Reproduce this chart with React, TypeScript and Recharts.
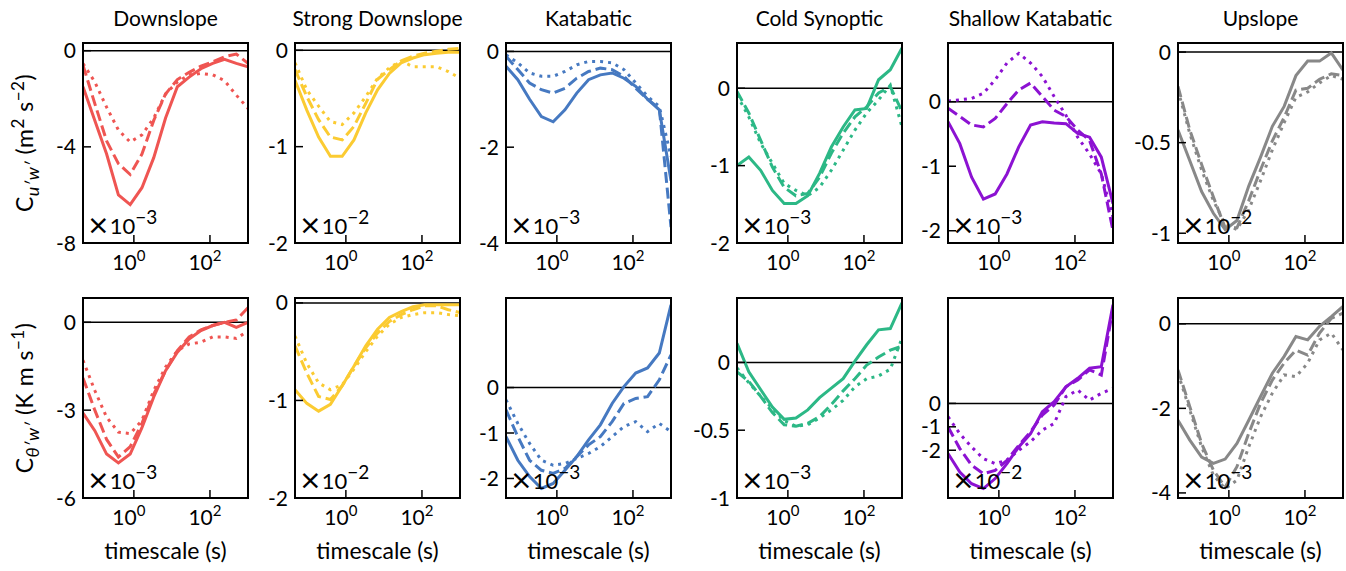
import { LineChart, Line, XAxis, YAxis, ReferenceLine } from "recharts";

// timescale (s) of each decomposition point
const timescale = [0.046, 0.094, 0.192, 0.392, 0.8, 1.63, 3.33, 6.81, 13.9, 28.4, 57.9, 118, 242, 493, 1000];

const titles = ["Downslope", "Strong Downslope", "Katabatic", "Cold Synoptic", "Shallow Katabatic", "Upslope"];
const colors = ["#EF5552", "#FBCB32", "#4679C1", "#2CB886", "#8C12D2", "#888888"];

// C_u'w' (top row)
const downUwSolid = [-1.5, -2.9, -4.3, -6.0, -6.4, -5.7, -4.45, -2.8, -1.5, -1.1, -0.75, -0.53, -0.36, -0.53, -0.67];
const downUwDashed = [-0.6, -2.2, -3.75, -4.7, -5.15, -4.3, -2.9, -1.8, -1.2, -0.9, -0.64, -0.46, -0.25, -0.14, -0.53];
const downUwDotted = [-0.53, -1.3, -2.35, -3.3, -3.8, -3.5, -2.8, -1.8, -1.3, -1.0, -0.95, -1.0, -1.25, -1.85, -2.4];

const strongUwSolid = [-0.31, -0.62, -0.9, -1.1, -1.1, -0.93, -0.65, -0.41, -0.24, -0.13, -0.08, -0.045, -0.03, -0.02, -0.02];
const strongUwDashed = [-0.2, -0.48, -0.72, -0.9, -0.93, -0.79, -0.55, -0.3, -0.2, -0.11, -0.06, -0.03, -0.01, 0.01, 0.02];
const strongUwDotted = [-0.13, -0.41, -0.58, -0.74, -0.77, -0.65, -0.48, -0.29, -0.18, -0.11, -0.17, -0.17, -0.17, -0.22, -0.29];

const katUwSolid = [-0.31, -0.59, -1.0, -1.36, -1.47, -1.22, -0.87, -0.59, -0.49, -0.45, -0.56, -0.73, -1.0, -1.22, -2.7];
const katUwDashed = [-0.1, -0.38, -0.66, -0.8, -0.87, -0.77, -0.56, -0.42, -0.35, -0.38, -0.52, -0.77, -1.0, -1.19, -3.67];
const katUwDotted = [-0.07, -0.24, -0.45, -0.52, -0.52, -0.42, -0.28, -0.21, -0.21, -0.24, -0.38, -0.66, -0.94, -1.15, -2.2];

const coldUwSolid = [-1.0, -0.89, -1.06, -1.32, -1.49, -1.49, -1.39, -1.1, -0.76, -0.5, -0.28, -0.26, 0.11, 0.24, 0.52];
const coldUwDashed = [-0.04, -0.32, -0.67, -1.02, -1.28, -1.39, -1.36, -1.15, -0.84, -0.58, -0.37, -0.24, -0.06, 0.02, -0.3];
const coldUwDotted = [-0.09, -0.37, -0.71, -0.97, -1.23, -1.32, -1.39, -1.28, -1.06, -0.8, -0.54, -0.32, -0.15, 0.04, -0.5];

const shallowUwSolid = [-0.31, -0.65, -1.17, -1.51, -1.43, -1.12, -0.7, -0.36, -0.31, -0.33, -0.34, -0.49, -0.55, -0.86, -1.58];
const shallowUwDashed = [-0.1, -0.23, -0.36, -0.39, -0.26, -0.03, 0.18, 0.29, 0.08, -0.13, -0.23, -0.44, -0.6, -1.12, -2.0];
const shallowUwDotted = [0.01, 0.03, 0.05, 0.13, 0.34, 0.6, 0.75, 0.6, 0.39, 0.08, -0.21, -0.55, -0.81, -1.12, -1.79];

const upUwSolid = [-0.43, -0.6, -0.77, -0.89, -0.98, -0.93, -0.74, -0.58, -0.41, -0.3, -0.13, -0.05, -0.05, -0.005, -0.1];
const upUwDashed = [-0.19, -0.43, -0.62, -0.8, -0.97, -0.97, -0.82, -0.65, -0.49, -0.36, -0.21, -0.2, -0.15, -0.12, -0.13];
const upUwDotted = [-0.21, -0.45, -0.65, -0.82, -0.95, -0.98, -0.87, -0.71, -0.54, -0.39, -0.25, -0.22, -0.17, -0.13, -0.15];

// C_theta'w' (bottom row)
const downTwSolid = [-3.1, -3.7, -4.5, -4.8, -4.5, -3.6, -2.55, -1.65, -1.02, -0.57, -0.28, -0.11, 0, -0.17, 0];
const downTwDashed = [-1.9, -3.0, -4.0, -4.6, -4.25, -3.45, -2.45, -1.65, -0.97, -0.5, -0.26, -0.11, 0, 0.08, 0.5];
const downTwDotted = [-1.3, -2.33, -3.24, -3.75, -3.8, -3.35, -2.33, -1.53, -0.97, -0.74, -0.68, -0.5, -0.5, -0.55, -0.3];

const strongTwSolid = [-0.89, -1.03, -1.11, -1.04, -0.85, -0.65, -0.44, -0.27, -0.15, -0.09, -0.04, -0.02, -0.02, -0.02, -0.02];
const strongTwDashed = [-0.44, -0.72, -0.96, -0.99, -0.85, -0.65, -0.46, -0.31, -0.19, -0.12, -0.07, -0.03, -0.03, -0.07, -0.1];
const strongTwDotted = [-0.34, -0.62, -0.82, -0.89, -0.84, -0.68, -0.5, -0.34, -0.22, -0.15, -0.12, -0.1, -0.1, -0.12, -0.13];

const katTwSolid = [-1.08, -1.6, -1.96, -2.22, -2.11, -1.82, -1.52, -1.15, -0.82, -0.35, 0.02, 0.32, 0.43, 0.76, 1.82];
const katTwDashed = [-0.49, -1.08, -1.6, -1.82, -1.89, -1.78, -1.52, -1.26, -1.08, -0.75, -0.35, -0.24, -0.2, 0.17, 0.72];
const katTwDotted = [-0.27, -0.79, -1.23, -1.6, -1.71, -1.67, -1.56, -1.45, -1.3, -1.08, -0.86, -0.75, -0.97, -0.79, -0.97];

const coldTwSolid = [0.14, -0.07, -0.2, -0.33, -0.42, -0.41, -0.35, -0.26, -0.19, -0.12, 0.01, 0.13, 0.24, 0.25, 0.44];
const coldTwDashed = [-0.07, -0.14, -0.25, -0.37, -0.46, -0.47, -0.45, -0.4, -0.31, -0.21, -0.12, -0.02, 0.04, 0.09, 0.12];
const coldTwDotted = [-0.04, -0.15, -0.25, -0.34, -0.43, -0.47, -0.46, -0.41, -0.35, -0.28, -0.18, -0.12, -0.1, -0.05, 0.18];

const shallowTwSolid = [-2.14, -2.93, -3.43, -3.64, -3.21, -2.57, -1.86, -1.29, -0.36, 0.07, 0.71, 1.07, 1.5, 1.57, 4.21];
const shallowTwDashed = [-1.0, -1.93, -2.64, -3.0, -2.86, -2.43, -1.79, -1.21, -0.5, -0.07, 0.71, 1.0, 1.43, 1.21, 4.07];
const shallowTwDotted = [-0.57, -1.29, -1.86, -2.36, -2.57, -2.43, -2.0, -1.64, -1.14, -0.86, 0.29, 0.57, 0.14, 0.43, 0.64];

const upTwSolid = [-2.28, -2.75, -3.15, -3.3, -3.2, -2.83, -2.28, -1.72, -1.17, -0.77, -0.3, -0.38, -0.06, 0.17, 0.41];
const upTwDashed = [-1.09, -1.96, -2.83, -3.46, -3.86, -3.38, -2.59, -1.88, -1.33, -0.93, -0.62, -0.74, -0.22, 0.13, 0.25];
const upTwDotted = [-1.17, -2.04, -2.91, -3.58, -3.9, -3.7, -2.91, -2.2, -1.64, -1.21, -1.25, -0.93, -0.38, -0.22, -0.62];

// tick labels and scale exponents
const uwTicks = [[0, -4, -8], [0, -1, -2], [0, -2, -4], [0, -1, -2], [0, -1, -2], [0, -0.5, -1]];
const twTicks = [[0, -3, -6], [0, -1, -2], [0, -1, -2], [0, -0.5, -1], [0, -1, -2], [0, -2, -4]];
const uwExp = ["−3", "−2", "−3", "−3", "−3", "−2"];
const twExp = ["−3", "−2", "−3", "−3", "−2", "−3"];
const xTicks = [1, 100];

// layout
const FONT = "Lato, 'Noto Sans', sans-serif";
const LEFTS = [83, 295, 506, 737, 948, 1178];
const TOPS = [43, 298];
const PW = 165;
const PH = 200;
const ML = 60;
const MR = 4;
const MT = 14;
const MB = 40;
const uwDomains = [[-8, 0.32], [-2, 0.076], [-4, 0.175], [-2, 0.585], [-2.19, 0.91], [-1.054, 0.05]];
const twDomains = [[-6, 0.83], [-2, 0.05], [-2.43, 1.97], [-1, 0.475], [-4.04, 4.5], [-4.12, 0.61]];

const uwSeries = [
  [downUwSolid, downUwDashed, downUwDotted],
  [strongUwSolid, strongUwDashed, strongUwDotted],
  [katUwSolid, katUwDashed, katUwDotted],
  [coldUwSolid, coldUwDashed, coldUwDotted],
  [shallowUwSolid, shallowUwDashed, shallowUwDotted],
  [upUwSolid, upUwDashed, upUwDotted],
];
const twSeries = [
  [downTwSolid, downTwDashed, downTwDotted],
  [strongTwSolid, strongTwDashed, strongTwDotted],
  [katTwSolid, katTwDashed, katTwDotted],
  [coldTwSolid, coldTwDashed, coldTwDotted],
  [shallowTwSolid, shallowTwDashed, shallowTwDotted],
  [upTwSolid, upTwDashed, upTwDotted],
];

const fmt = (v: number) => (v === 0 ? "0" : String(v));

function YTick(props: any) {
  const { y, payload } = props;
  return (
    <g>
      <line x1={ML} x2={ML + 8} y1={y} y2={y} stroke="#000" strokeWidth={1.5} />
      <text x={ML - 7} y={y} dy="0.36em" textAnchor="end" fontSize={21} fontFamily={FONT} fill="#000">
        {fmt(payload.value)}
      </text>
    </g>
  );
}

function XTick(props: any) {
  const { x, payload } = props;
  const exp = String(Math.round(Math.log10(payload.value)));
  return (
    <g>
      <line x1={x} x2={x} y1={MT + PH} y2={MT + PH - 8} stroke="#000" strokeWidth={1.5} />
      <text x={x - 5} y={MT + PH + 27} textAnchor="middle" fontSize={21} fontFamily={FONT} fill="#000">
        10
        <tspan dy={-9} fontSize={15}>{exp}</tspan>
      </text>
    </g>
  );
}

function Panel({ left, top, series, color, domain, ticks }: any) {
  const rows = timescale.map((t, i) => ({
    t,
    solid: series[0][i],
    dashed: series[1][i],
    dotted: series[2][i],
  }));
  return (
    <div style={{ position: "absolute", left: left - ML, top: top - MT }}>
      <LineChart
        width={ML + PW + MR}
        height={MT + PH + MB}
        data={rows}
        margin={{ top: MT, right: MR, bottom: 0, left: 0 }}
      >
        <XAxis
          dataKey="t"
          type="number"
          scale="log"
          domain={[0.046, 1000]}
          ticks={xTicks}
          allowDataOverflow
          height={MB}
          axisLine={false}
          tickLine={false}
          interval={0}
          tick={<XTick />}
        />
        <YAxis
          type="number"
          domain={domain}
          ticks={ticks}
          allowDataOverflow
          width={ML}
          axisLine={false}
          tickLine={false}
          interval={0}
          tick={<YTick />}
        />
        <ReferenceLine y={0} stroke="#000" strokeWidth={1.5} />
        <Line type="linear" dataKey="solid" stroke={color} strokeWidth={3} dot={false} isAnimationActive={false} />
        <Line type="linear" dataKey="dashed" stroke={color} strokeWidth={3} strokeDasharray="11 4.8" dot={false} isAnimationActive={false} />
        <Line type="linear" dataKey="dotted" stroke={color} strokeWidth={3} strokeDasharray="3 5" dot={false} isAnimationActive={false} />
      </LineChart>
    </div>
  );
}

export default function App() {
  return (
    <div style={{ position: "absolute", left: 0, top: 0, width: 1346, height: 571, background: "#fff", fontFamily: FONT }}>
      {LEFTS.map((left, i) => (
        <Panel key={"u" + i} left={left} top={TOPS[0]} series={uwSeries[i]} color={colors[i]} domain={uwDomains[i]} ticks={uwTicks[i]} />
      ))}
      {LEFTS.map((left, i) => (
        <Panel key={"t" + i} left={left} top={TOPS[1]} series={twSeries[i]} color={colors[i]} domain={twDomains[i]} ticks={twTicks[i]} />
      ))}
      <svg width={1346} height={571} style={{ position: "absolute", left: 0, top: 0, pointerEvents: "none" }} fontFamily={FONT}>
        {LEFTS.map((left, i) => (
          <g key={i}>
            <text x={left + PW / 2} y={26} textAnchor="middle" fontSize={21}>{titles[i]}</text>
            {TOPS.map((top, r) => (
              <g key={r}>
                <rect x={left} y={top} width={PW} height={PH} fill="none" stroke="#000" strokeWidth={2} />
                <text x={left + 4} y={top + PH - 9} fontSize={22}>
                  <tspan fontSize={27} fontFamily="'DejaVu Sans', sans-serif">×</tspan>
                  10
                  <tspan dy={-10} fontSize={19}>{r === 0 ? uwExp[i] : twExp[i]}</tspan>
                </text>
              </g>
            ))}
            <text x={left + PW / 2} y={559} textAnchor="middle" fontSize={23}>timescale (s)</text>
          </g>
        ))}
        <text transform={`translate(33, ${TOPS[0] + PH / 2}) rotate(-90)`} textAnchor="middle" fontSize={23} letterSpacing={0.5}>
          C<tspan dy={6} fontSize={18} fontStyle="italic">u′w′</tspan>
          <tspan dy={-6}> (m</tspan>
          <tspan dy={-9} fontSize={17}>2</tspan>
          <tspan dy={9}> s</tspan>
          <tspan dy={-9} fontSize={17}>−2</tspan>
          <tspan dy={9}>)</tspan>
        </text>
        <text transform={`translate(33, ${TOPS[1] + PH / 2}) rotate(-90)`} textAnchor="middle" fontSize={23} letterSpacing={0.5}>
          C<tspan dy={6} fontSize={18} fontStyle="italic">θ′w′</tspan>
          <tspan dy={-6}> (K m s</tspan>
          <tspan dy={-9} fontSize={17}>−1</tspan>
          <tspan dy={9}>)</tspan>
        </text>
      </svg>
    </div>
  );
}
